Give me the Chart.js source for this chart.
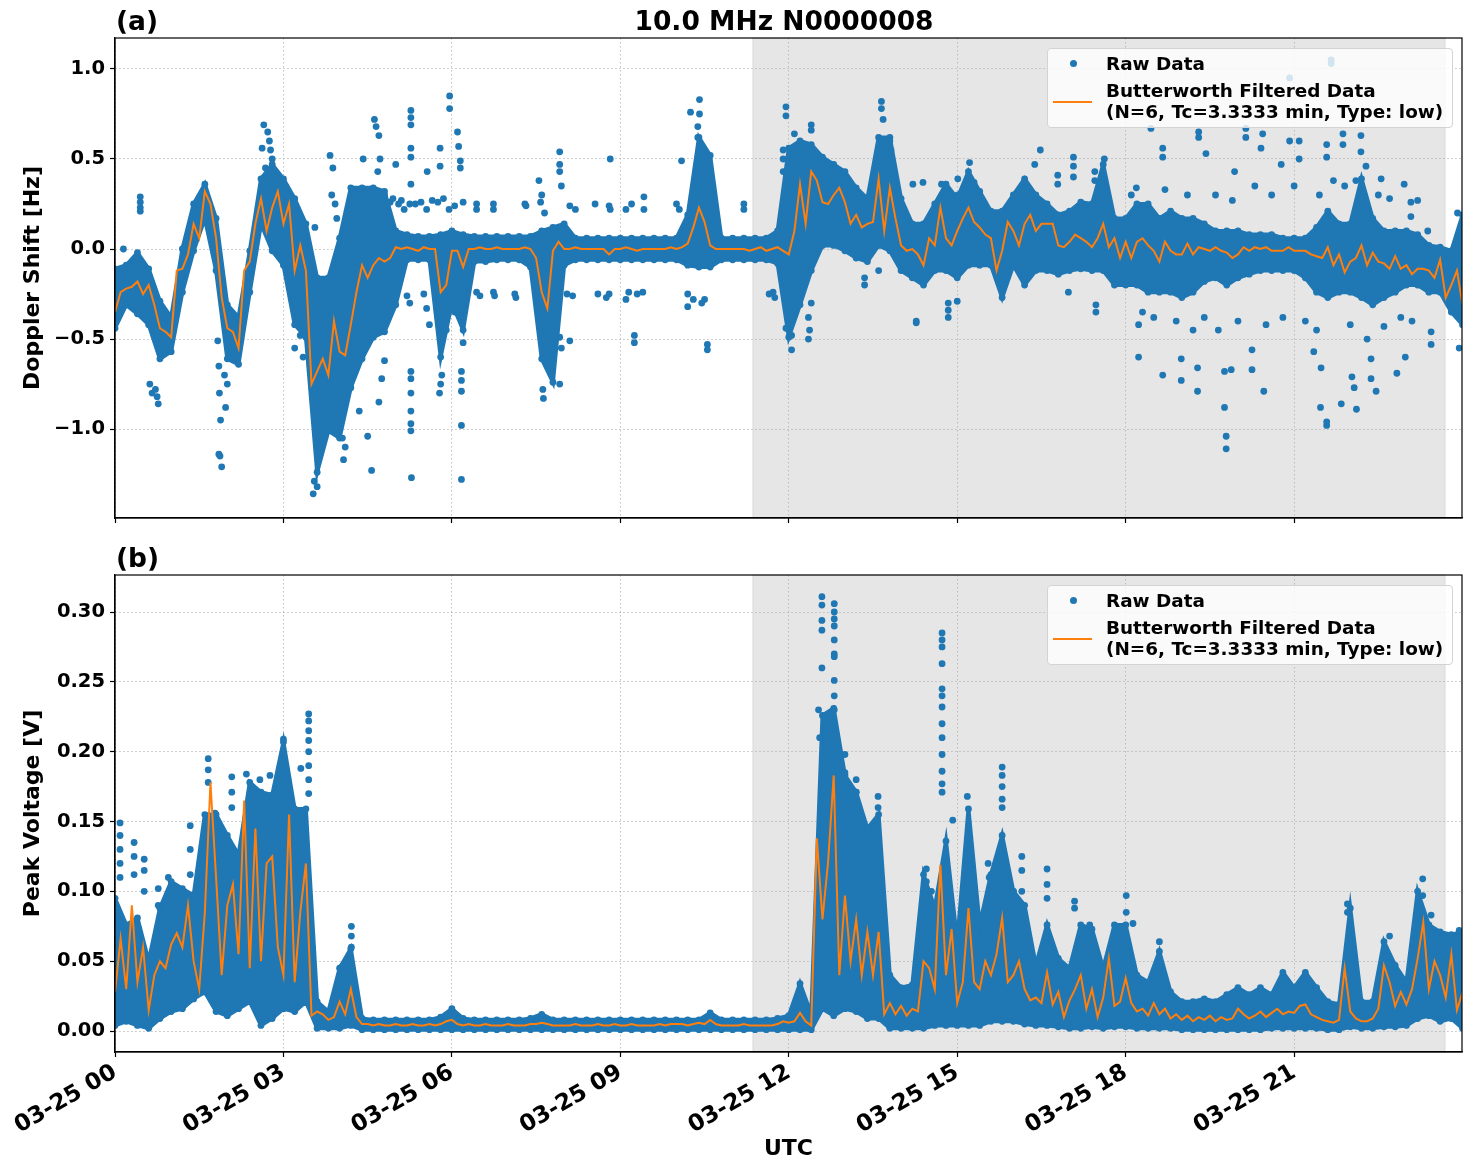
<!DOCTYPE html>
<html>
<head>
<meta charset="utf-8">
<title>10.0 MHz N0000008</title>
<script src="https://cdn.jsdelivr.net/npm/chart.js@4.4.1/dist/chart.umd.min.js"></script>
<style>
  body { margin: 0; background: #fff; }
  #fig { position: relative; width: 1471px; height: 1172px; overflow: hidden; }
  #fig canvas { position: absolute; left: 0; }
  .txt { position: absolute; font-family: 'DejaVu Sans', sans-serif; font-weight: bold; color: #000; white-space: nowrap; line-height: 1; }
  .legend { position: absolute; width: 404px; height: 78px; border: 1px solid #d3d3d3; border-radius: 4px; background: rgba(255,255,255,0.8); }
  .legend .txt { font-size: 18.4px; }
  .legend .dot { position: absolute; width: 7px; height: 7px; border-radius: 50%; background: #1f77b4; left: 22px; top: 11px; }
  .legend .ln { position: absolute; width: 39px; height: 2px; background: #ff7f0e; left: 5px; top: 52px; }
</style>
</head>
<body>
<div id="fig">
  <canvas id="chartA" width="1471" height="545" style="top:0"></canvas>
  <canvas id="chartB" width="1471" height="627" style="top:545px"></canvas>

  <div class="txt" style="left:116px; top:8px; font-size:26.5px;">(a)</div>
  <div class="txt" style="left:784px; top:8px; font-size:26.5px; transform:translateX(-50%);">10.0 MHz N0000008</div>
  <div class="txt" style="left:116px; top:545px; font-size:26.5px;">(b)</div>

  <div class="legend" style="left:1047px; top:48px;">
    <span class="dot"></span>
    <div class="txt" style="left:58px; top:6px;">Raw Data</div>
    <span class="ln"></span>
    <div class="txt" style="left:58px; top:33px;">Butterworth Filtered Data</div>
    <div class="txt" style="left:58px; top:54px;">(N=6, Tc=3.3333 min, Type: low)</div>
  </div>
  <div class="legend" style="left:1047px; top:585px;">
    <span class="dot"></span>
    <div class="txt" style="left:58px; top:6px;">Raw Data</div>
    <span class="ln"></span>
    <div class="txt" style="left:58px; top:33px;">Butterworth Filtered Data</div>
    <div class="txt" style="left:58px; top:54px;">(N=6, Tc=3.3333 min, Type: low)</div>
  </div>
</div>

<script>
// time in hours after 03-25 00:00 UTC
const FILT_STEP = 0.1;  // spacing of the filtered curve samples
const BAND_STEP = 0.2;  // spacing of the dense raw-data envelope samples
const SPAN_START = 11.36, SPAN_END = 23.69; // grey shaded interval
const X_TICK_LABELS = ['03-25 00', '03-25 03', '03-25 06', '03-25 09', '03-25 12', '03-25 15', '03-25 18', '03-25 21'];

// (a) Doppler shift [Hz] - Butterworth filtered, one value per 0.1 h
const DOPPLER_FILT = [
  -0.35,-0.24,-0.22,-0.21,-0.18,-0.25,-0.20,-0.31,-0.44,-0.46,
  -0.49,-0.12,-0.11,-0.03,0.14,0.06,0.32,0.25,0.06,-0.27,
  -0.44,-0.46,-0.55,-0.12,-0.07,0.14,0.28,0.10,0.23,0.32,
  0.14,0.25,-0.12,0.02,-0.12,-0.75,-0.68,-0.61,-0.70,-0.40,
  -0.57,-0.59,-0.42,-0.24,-0.09,-0.16,-0.09,-0.05,-0.07,-0.05,
  0.01,0.00,0.01,0.00,-0.01,0.01,0.00,0.00,-0.24,-0.20,
  -0.01,-0.01,-0.10,0.00,0.00,0.01,0.00,0.00,0.01,0.00,
  0.00,0.00,0.00,0.01,0.00,-0.05,-0.24,-0.33,-0.01,0.04,
  0.00,0.00,0.01,0.00,0.00,0.00,0.00,0.00,-0.03,0.00,
  0.00,0.01,0.00,-0.01,0.00,0.00,0.00,0.00,0.00,0.01,
  0.00,0.01,0.03,0.12,0.23,0.15,0.02,0.00,0.00,0.00,
  0.00,0.00,0.00,-0.01,0.00,0.01,-0.01,0.00,0.01,-0.01,
  -0.03,0.10,0.36,0.14,0.43,0.38,0.26,0.25,0.30,0.34,
  0.26,0.14,0.19,0.12,0.14,0.15,0.39,0.10,0.34,0.17,
  0.02,-0.01,0.00,-0.03,-0.09,0.06,0.02,0.23,0.06,0.02,
  0.10,0.17,0.23,0.15,0.12,0.08,0.06,-0.12,-0.01,0.15,
  0.10,0.02,0.14,0.19,0.10,0.14,0.14,0.14,0.02,0.01,
  0.04,0.08,0.06,0.04,0.01,0.06,0.14,0.01,0.06,-0.05,
  0.04,-0.05,0.04,0.06,0.02,-0.01,-0.07,0.04,-0.01,-0.03,
  -0.03,0.03,-0.03,0.01,0.00,-0.01,0.01,-0.01,-0.02,-0.05,
  -0.03,0.01,-0.01,0.01,0.00,0.01,-0.01,-0.01,-0.01,0.01,
  -0.01,-0.01,-0.01,-0.03,-0.04,-0.05,0.01,-0.09,-0.03,-0.13,
  -0.07,-0.05,0.02,-0.09,-0.02,-0.07,-0.08,-0.11,-0.04,-0.11,
  -0.09,-0.14,-0.11,-0.11,-0.12,-0.16,-0.06,-0.27,-0.20,-0.12,
  -0.31
];

// (a) upper / lower edge of the dense raw-data cloud, one value per 0.2 h
const DOPPLER_HI = [
  -0.11,-0.09,-0.02,-0.11,-0.29,
  -0.38,0.00,0.25,0.36,0.17,
  -0.31,-0.38,-0.01,0.39,0.47,
  0.39,0.28,0.14,-0.16,-0.16,
  0.06,0.34,0.34,0.34,0.32,
  0.10,0.08,0.07,0.07,0.08,
  0.10,0.08,0.07,0.07,0.07,
  0.07,0.07,0.07,0.10,0.12,
  0.14,0.06,0.06,0.06,0.06,
  0.06,0.06,0.06,0.06,0.06,
  0.06,0.19,0.62,0.52,0.06,
  0.06,0.06,0.06,0.06,0.10,
  0.56,0.60,0.58,0.51,0.47,
  0.43,0.34,0.28,0.62,0.62,
  0.28,0.14,0.14,0.25,0.36,
  0.28,0.43,0.32,0.21,0.21,
  0.30,0.39,0.30,0.25,0.19,
  0.21,0.26,0.25,0.47,0.17,
  0.17,0.25,0.25,0.17,0.21,
  0.17,0.17,0.14,0.10,0.10,
  0.10,0.08,0.08,0.08,0.06,
  0.06,0.06,0.12,0.21,0.14,
  0.14,0.39,0.17,0.10,0.10,
  0.10,0.08,0.02,0.01,-0.01,
  0.19
];
const DOPPLER_LO = [
  -0.44,-0.31,-0.36,-0.42,-0.61,
  -0.57,-0.24,-0.01,0.17,-0.12,
  -0.61,-0.64,-0.24,0.14,-0.01,
  -0.09,-0.42,-0.49,-1.24,-1.01,
  -1.05,-0.77,-0.61,-0.49,-0.46,
  -0.31,-0.06,-0.06,-0.06,-0.60,
  -0.30,-0.45,-0.07,-0.07,-0.06,
  -0.06,-0.06,-0.10,-0.61,-0.74,
  -0.09,-0.06,-0.06,-0.06,-0.06,
  -0.06,-0.06,-0.06,-0.06,-0.06,
  -0.06,-0.09,-0.10,-0.10,-0.06,
  -0.06,-0.06,-0.06,-0.06,-0.08,
  -0.49,-0.31,-0.12,0.02,0.02,
  -0.01,-0.05,-0.07,0.02,-0.01,
  -0.12,-0.16,-0.20,-0.12,-0.12,
  -0.16,-0.09,-0.09,-0.09,-0.27,
  -0.09,-0.20,-0.12,-0.12,-0.14,
  -0.12,-0.11,-0.12,-0.12,-0.20,
  -0.20,-0.20,-0.24,-0.24,-0.24,
  -0.27,-0.24,-0.18,-0.16,-0.20,
  -0.16,-0.14,-0.12,-0.12,-0.12,
  -0.12,-0.16,-0.24,-0.27,-0.24,
  -0.24,-0.27,-0.31,-0.27,-0.24,
  -0.20,-0.20,-0.24,-0.24,-0.35,
  -0.42
];

// (a) scattered raw points outside the dense cloud: [hour, Hz]
const DOPPLER_RAW = [
  [0.45,0.29],[0.45,0.26],[0.45,0.23],[0.45,0.21],[0.15,0.0],
  [0.62,-0.75],[0.66,-0.80],[0.72,-0.78],[0.77,-0.86],[0.75,-0.82],
  [1.83,-0.51],[1.85,-0.65],[1.86,-0.80],[1.88,-0.95],[1.85,-1.14],[1.87,-1.15],[1.90,-1.21],[1.95,-0.70],[1.97,-0.88],[2.00,-0.75],
  [2.62,0.56],[2.65,0.69],[2.72,0.65],[2.75,0.60],[2.77,0.55],[2.80,0.50],[2.68,0.45],
  [3.25,-0.35],[3.30,-0.48],[3.35,-0.60],[3.20,-0.55],[3.56,0.12],
  [3.83,0.52],[3.88,0.45],[3.92,0.25],[3.95,0.17],[3.86,0.30],
  [3.53,-1.36],[3.55,-1.29],[3.60,-1.32],[4.07,-1.17],[4.05,-1.05],[4.10,-1.10],
  [4.42,0.50],[4.57,-1.23],[4.50,-1.04],[4.35,-0.90],
  [4.62,0.72],[4.65,0.68],[4.70,0.63],[4.72,0.50],[4.68,0.43],
  [4.70,-0.85],[4.75,-0.72],[4.80,-0.62],
  [4.80,0.30],[4.90,0.26],[4.95,0.28],[5.05,0.25],[5.00,0.47],
  [5.27,0.77],[5.27,0.73],[5.27,0.69],[5.27,0.56],[5.27,0.51],[5.27,0.36],[5.25,0.25],
  [5.27,-0.68],[5.27,-0.72],[5.27,-0.80],[5.27,-0.90],[5.27,-0.97],[5.27,-1.01],[5.28,-1.27],
  [5.56,0.43],[5.79,0.56],[5.79,0.46],[5.96,0.85],[5.96,0.78],
  [6.10,0.65],[6.12,0.57],[6.15,0.49],[6.15,0.45],
  [6.17,-0.98],[6.17,-1.28],[6.17,-0.68],[6.17,-0.73],[6.17,-0.79],
  [5.80,-0.75],[5.82,-0.70],[5.78,-0.80],
  [6.44,0.25],[6.74,0.25],[6.44,0.22],[6.74,0.22],
  [6.44,-0.24],[6.50,-0.26],[6.74,-0.24],[6.76,-0.26],
  [7.12,-0.25],[7.14,-0.27],[7.30,0.25],[7.32,0.24],
  [7.55,0.38],[7.60,0.30],[7.65,0.20],[7.58,0.26],[7.63,-0.83],[7.62,-0.78],
  [7.92,0.54],[7.92,0.47],[7.92,0.43],[7.95,0.35],[7.92,-0.49],[7.92,-0.75],[7.95,-0.55],
  [4.30,0.30],[4.40,0.26],[4.50,0.28],[4.60,0.24],[5.10,0.27],[5.15,0.22],[5.35,0.25],[5.45,0.26],
  [5.55,0.22],[5.65,0.27],[5.75,0.26],[5.85,0.28],[5.95,0.22],[6.05,0.24],[6.20,0.26],
  [5.20,-0.26],[5.25,-0.30],[5.50,-0.25],[5.55,-0.33],[5.60,-0.42],[5.90,-0.45],[6.05,-0.35],[6.20,-0.52],
  [8.10,0.24],[8.20,0.22],[8.55,0.25],[8.80,0.24],[8.82,0.22],[9.10,0.22],[9.20,0.25],[9.42,0.29],[9.42,0.22],
  [8.05,-0.25],[8.15,-0.26],[8.60,-0.25],[8.75,-0.27],[8.80,-0.25],[9.10,-0.28],[9.15,-0.24],[9.30,-0.25],[9.40,-0.24],
  [8.10,-0.51],[9.25,-0.48],[9.25,-0.52],[8.82,0.50],
  [10.09,0.49],[10.00,0.25],[10.05,0.22],
  [10.25,0.76],[10.41,0.83],[10.41,0.75],[10.38,0.68],[10.38,0.62],[10.45,0.47],[10.55,0.42],
  [10.55,-0.53],[10.55,-0.56],[10.20,-0.25],[10.30,-0.28],[10.50,-0.28],[10.45,-0.30],[10.20,-0.32],
  [11.20,0.25],[11.20,0.22],[11.65,-0.25],[11.72,-0.24],[11.75,-0.27],
  [11.95,0.79],[11.95,0.74],[11.90,0.55],[11.90,0.50],[11.90,0.43],[12.10,0.64],[12.40,0.69],[12.40,0.66],
  [11.95,-0.44],[12.05,-0.56],[12.05,-0.48],[12.35,-0.50],[12.35,-0.38],[12.40,-0.30],[12.37,-0.45],
  [13.65,0.82],[13.65,0.78],[13.68,0.72],[13.80,0.60],[13.82,0.55],
  [13.35,-0.20],[13.60,-0.12],[13.35,-0.16],
  [14.21,0.36],[14.39,0.37],[14.27,-0.41],[14.27,-0.40],
  [15.01,0.39],[15.01,0.30],[14.84,-0.30],[14.84,-0.38],[14.84,-0.34],
  [15.22,0.48],[15.30,0.37],[15.00,-0.29],[14.72,0.36],
  [16.48,0.55],[16.38,0.47],[16.98,-0.24],[16.79,0.41],[16.79,0.36],
  [17.07,0.51],[17.07,0.46],[17.07,0.40],[17.45,0.43],[17.45,0.38],[17.47,-0.31],[17.47,-0.35],[17.62,0.50],
  [18.19,0.34],[18.23,-0.42],[18.23,-0.60],[18.45,0.67],[18.66,0.56],[18.66,0.51],[18.66,-0.70],
  [18.99,-0.73],[18.99,-0.61],[19.28,-0.79],[19.28,-0.66],[19.30,0.65],[19.30,0.62],[19.43,0.53],
  [19.76,-0.68],[19.76,-0.88],[19.79,-1.04],[19.79,-1.11],[19.88,-0.67],[19.94,0.43],
  [20.14,0.62],[20.14,0.67],[20.25,-0.67],[20.25,-0.56],[20.41,0.56],[20.44,0.64],[20.46,-0.79],
  [20.77,0.47],[20.92,0.95],[20.92,0.60],[21.09,0.60],[21.09,0.50],
  [21.35,-0.57],[21.48,-0.66],[21.47,-0.88],[21.58,-0.98],[21.58,-0.96],[21.58,0.58],[21.58,0.51],
  [21.66,1.03],[21.66,1.05],[21.87,0.64],[21.87,0.58],[21.84,-0.86],
  [22.03,-0.71],[22.07,-0.77],[22.11,-0.89],[22.19,0.63],[22.19,0.54],[22.28,0.46],
  [22.46,-0.79],[22.37,-0.61],[22.37,-0.72],[22.55,0.39],[22.83,-0.69],[22.96,0.36],
  [23.08,0.26],[23.08,0.18],[22.98,-0.60],[23.44,-0.46],[23.44,-0.53],[23.38,0.10],[23.94,-0.55],[23.91,0.20],
  [18.10,0.30],[18.30,-0.35],[18.50,-0.38],[18.70,0.33],[18.90,-0.40],[19.10,0.30],[19.20,-0.45],
  [19.40,-0.38],[19.60,0.30],[19.65,-0.45],[19.90,0.27],[20.00,-0.40],[20.30,0.35],[20.50,-0.42],
  [20.60,0.30],[20.80,-0.38],[21.00,0.35],[21.20,-0.40],[21.40,-0.45],[21.45,0.30],[21.70,0.38],
  [21.90,0.35],[22.00,-0.42],[22.10,0.38],[22.30,-0.50],[22.50,0.30],[22.60,-0.43],[22.70,0.28],
  [22.90,-0.38],[23.10,-0.40],[23.20,0.27]
];

// (b) peak voltage [V] - Butterworth filtered, one value per 0.1 h
const VOLT_FILT = [
  0.028,0.066,0.030,0.090,0.035,0.060,0.015,0.040,0.050,0.045,
  0.062,0.070,0.060,0.090,0.050,0.030,0.085,0.178,0.110,0.040,
  0.090,0.105,0.055,0.165,0.045,0.145,0.050,0.120,0.125,0.060,
  0.040,0.155,0.035,0.085,0.120,0.011,0.014,0.012,0.008,0.010,
  0.021,0.012,0.030,0.010,0.005,0.005,0.004,0.005,0.004,0.004,
  0.005,0.004,0.004,0.005,0.004,0.004,0.005,0.004,0.005,0.007,
  0.008,0.005,0.004,0.005,0.004,0.004,0.005,0.004,0.004,0.004,
  0.005,0.004,0.004,0.004,0.005,0.005,0.006,0.005,0.004,0.004,
  0.004,0.004,0.005,0.004,0.004,0.004,0.005,0.004,0.004,0.005,
  0.004,0.004,0.005,0.004,0.004,0.004,0.004,0.005,0.004,0.005,
  0.005,0.005,0.004,0.005,0.006,0.005,0.008,0.005,0.004,0.004,
  0.004,0.004,0.005,0.004,0.004,0.004,0.004,0.004,0.005,0.007,
  0.006,0.007,0.013,0.007,0.004,0.138,0.080,0.121,0.183,0.040,
  0.097,0.050,0.080,0.040,0.071,0.040,0.071,0.012,0.020,0.012,
  0.018,0.011,0.016,0.014,0.050,0.045,0.030,0.119,0.040,0.073,
  0.020,0.035,0.088,0.035,0.030,0.050,0.040,0.055,0.081,0.035,
  0.040,0.050,0.030,0.022,0.024,0.020,0.042,0.019,0.028,0.010,
  0.022,0.030,0.040,0.016,0.030,0.010,0.024,0.052,0.018,0.021,
  0.038,0.020,0.014,0.016,0.011,0.020,0.012,0.016,0.009,0.012,
  0.008,0.011,0.007,0.010,0.008,0.011,0.007,0.010,0.008,0.009,
  0.016,0.012,0.009,0.011,0.014,0.010,0.013,0.016,0.012,0.014,
  0.013,0.018,0.019,0.012,0.010,0.008,0.007,0.006,0.008,0.045,
  0.014,0.009,0.007,0.007,0.009,0.016,0.047,0.035,0.018,0.028,
  0.019,0.030,0.052,0.078,0.030,0.050,0.040,0.024,0.055,0.015,
  0.028
];

// (b) upper / lower edge of the dense raw-data cloud, one value per 0.2 h
const VOLT_HI = [
  0.095,0.076,0.081,0.050,0.088,
  0.107,0.102,0.097,0.155,0.155,
  0.140,0.126,0.178,0.171,0.169,
  0.207,0.159,0.159,0.021,0.014,
  0.045,0.059,0.009,0.008,0.008,
  0.008,0.008,0.008,0.008,0.010,
  0.016,0.009,0.008,0.008,0.008,
  0.008,0.008,0.009,0.012,0.008,
  0.008,0.008,0.008,0.008,0.008,
  0.008,0.008,0.008,0.008,0.008,
  0.008,0.008,0.008,0.013,0.008,
  0.008,0.008,0.008,0.008,0.009,
  0.011,0.034,0.012,0.226,0.231,
  0.183,0.171,0.145,0.155,0.040,
  0.031,0.033,0.112,0.088,0.136,
  0.064,0.159,0.076,0.112,0.140,
  0.100,0.090,0.047,0.076,0.052,
  0.045,0.076,0.073,0.045,0.076,
  0.076,0.040,0.035,0.057,0.028,
  0.021,0.021,0.023,0.021,0.026,
  0.031,0.026,0.031,0.026,0.042,
  0.031,0.042,0.031,0.021,0.019,
  0.088,0.021,0.021,0.064,0.047,
  0.035,0.100,0.076,0.071,0.069,
  0.071
];
const VOLT_LO = [
  0.004,0.007,0.004,0.002,0.009,
  0.014,0.016,0.023,0.028,0.014,
  0.011,0.016,0.021,0.004,0.009,
  0.016,0.014,0.021,0.002,0.002,
  0.002,0.004,0.001,0.001,0.001,
  0.001,0.001,0.001,0.001,0.001,
  0.001,0.001,0.001,0.001,0.001,
  0.001,0.001,0.001,0.001,0.001,
  0.001,0.001,0.001,0.001,0.001,
  0.001,0.001,0.001,0.001,0.001,
  0.001,0.001,0.001,0.001,0.001,
  0.001,0.001,0.001,0.001,0.001,
  0.001,0.001,0.001,0.016,0.011,
  0.016,0.014,0.009,0.009,0.002,
  0.002,0.002,0.002,0.004,0.004,
  0.004,0.004,0.004,0.007,0.007,
  0.007,0.005,0.004,0.004,0.003,
  0.002,0.002,0.003,0.002,0.003,
  0.003,0.002,0.002,0.002,0.002,
  0.001,0.001,0.001,0.001,0.001,
  0.001,0.001,0.001,0.002,0.002,
  0.002,0.002,0.002,0.001,0.001,
  0.003,0.002,0.002,0.003,0.003,
  0.004,0.009,0.011,0.007,0.009,
  0.002
];

// (b) scattered raw points above the dense cloud: [hour, V]
const VOLT_RAW = [
  [0.09,0.149],[0.09,0.140],[0.09,0.130],[0.09,0.120],[0.09,0.110],
  [0.34,0.135],[0.34,0.125],[0.34,0.112],[0.52,0.123],[0.52,0.115],[0.52,0.100],
  [0.77,0.102],[0.77,0.090],[0.95,0.110],
  [1.34,0.147],[1.34,0.130],[1.34,0.112],[1.66,0.195],[1.66,0.187],[1.66,0.178],[1.78,0.156],
  [2.08,0.182],[2.08,0.171],[2.08,0.160],[2.34,0.184],[2.58,0.180],[2.76,0.183],[3.00,0.209],[3.31,0.188],
  [3.45,0.227],[3.45,0.222],[3.45,0.215],[3.45,0.208],[3.45,0.200],[3.45,0.190],[3.45,0.180],[3.45,0.170],
  [4.21,0.075],[4.21,0.068],[4.21,0.060],[4.04,0.046],
  [12.59,0.311],[12.59,0.305],[12.59,0.294],[12.59,0.287],[12.59,0.260],[12.53,0.230],[12.55,0.210],
  [12.81,0.306],[12.81,0.300],[12.81,0.295],[12.81,0.290],[12.81,0.280],[12.81,0.270],[12.81,0.268],
  [12.81,0.251],[12.81,0.240],[12.81,0.230],[12.81,0.212],
  [13.00,0.198],[13.00,0.185],[13.20,0.180],[13.20,0.171],[13.59,0.168],[13.59,0.160],
  [14.73,0.285],[14.73,0.280],[14.73,0.275],[14.73,0.263],[14.73,0.245],[14.73,0.240],[14.73,0.232],
  [14.73,0.220],[14.73,0.210],[14.73,0.198],[14.73,0.186],[14.73,0.177],[14.73,0.171],
  [14.92,0.151],[15.18,0.168],
  [15.80,0.189],[15.80,0.183],[15.80,0.175],[15.80,0.166],[15.80,0.160],
  [14.45,0.116],[14.45,0.107],[14.54,0.100],
  [15.55,0.120],[15.57,0.110],[15.73,0.112],[16.00,0.100],
  [16.15,0.125],[16.15,0.115],[16.15,0.100],[16.60,0.116],[16.60,0.105],[16.60,0.095],
  [17.09,0.093],[17.09,0.088],[17.36,0.076],[18.01,0.097],[18.01,0.085],[18.13,0.077],[18.60,0.064],
  [21.95,0.091],[21.95,0.085],[22.70,0.068],[23.29,0.109],[23.29,0.097],[23.44,0.083],[23.94,0.072]
];

const BLUE = '#1f77b4';
const ORANGE = '#ff7f0e';

Chart.defaults.font.family = "'DejaVu Sans', sans-serif";
Chart.defaults.font.weight = 'bold';
Chart.defaults.color = '#000';

function series(values, step) {
  return values.map((v, i) => ({ x: Math.round(i * step * 100) / 100, y: v }));
}
function pairs(list) {
  return list.map(p => ({ x: p[0], y: p[1] }));
}

// grey shaded span + closed black frame like matplotlib
const spanAndFrame = {
  id: 'spanAndFrame',
  beforeDraw(chart) {
    const { ctx, chartArea: a, scales: { x } } = chart;
    const x0 = x.getPixelForValue(SPAN_START);
    const x1 = Math.min(x.getPixelForValue(SPAN_END), a.right);
    ctx.save();
    ctx.fillStyle = 'rgba(128,128,128,0.2)';
    ctx.fillRect(x0, a.top, x1 - x0, a.bottom - a.top);
    ctx.strokeStyle = 'rgba(128,128,128,0.2)';
    ctx.lineWidth = 1;
    ctx.strokeRect(x0, a.top, x1 - x0, a.bottom - a.top);
    ctx.restore();
  },
  afterDraw(chart) {
    const { ctx, chartArea: a } = chart;
    ctx.save();
    ctx.strokeStyle = '#000';
    ctx.lineWidth = 1.2;
    ctx.strokeRect(a.left, a.top, a.right - a.left, a.bottom - a.top);
    ctx.restore();
  }
};

function makePanel(canvasId, cfg) {
  const datasets = [
    { label: 'Butterworth Filtered Data', type: 'line', data: series(cfg.filt, FILT_STEP),
      borderColor: ORANGE, borderWidth: 2, pointRadius: 0, fill: false, order: 0 },
    { label: 'Raw Data', type: 'scatter', data: pairs(cfg.raw),
      backgroundColor: BLUE, borderWidth: 0, pointRadius: 3.4, order: 1 },
    // edges of the dense dot cloud, dotted with raw-size markers
    { label: 'envelope low', type: 'line', data: series(cfg.lo, BAND_STEP),
      borderColor: BLUE, borderWidth: 4, pointRadius: 3.4, pointBorderWidth: 0,
      pointBackgroundColor: BLUE, fill: false, order: 2 },
    { label: 'envelope high', type: 'line', data: series(cfg.hi, BAND_STEP),
      borderColor: BLUE, backgroundColor: BLUE, borderWidth: 4, pointRadius: 3.4, pointBorderWidth: 0,
      pointBackgroundColor: BLUE, fill: 2, order: 2 }
  ];

  return new Chart(document.getElementById(canvasId), {
    type: 'line',
    data: { datasets },
    options: {
      responsive: false,
      animation: false,
      events: [],
      layout: { padding: { left: 0, right: 9, top: cfg.padTop, bottom: 0 } },
      plugins: { legend: { display: false }, tooltip: { enabled: false } },
      scales: {
        x: {
          type: 'linear', min: 0, max: 23.99,
          ticks: {
            display: cfg.showX, stepSize: 3, includeBounds: false, autoSkip: false,
            minRotation: 30, maxRotation: 30, padding: 2,
            font: { size: 23, weight: 'bold' },
            callback: v => X_TICK_LABELS[Math.round(v / 3)]
          },
          grid: { color: '#b0b0b0', lineWidth: 0.8, tickLength: 5, tickColor: '#000', tickWidth: 1.2 },
          border: { color: '#000', width: 1.2, dash: [1.5, 2.5] },
          title: { display: cfg.showX, text: 'UTC', font: { size: 22, weight: 'bold' }, padding: { top: 0, bottom: 10 } },
          afterFit: s => { s.height = cfg.xHeight; }
        },
        y: {
          type: 'linear', min: cfg.yMin, max: cfg.yMax,
          ticks: {
            stepSize: cfg.yStep, includeBounds: false, padding: 5,
            font: { size: 19.5, weight: 'bold' },
            callback: cfg.yFormat
          },
          grid: { color: '#b0b0b0', lineWidth: 0.8, tickLength: 5, tickColor: '#000', tickWidth: 1.2 },
          border: { color: '#000', width: 1.2, dash: [1.5, 2.5] },
          title: { display: true, text: cfg.yTitle, font: { size: 22, weight: 'bold' }, padding: { top: 20, bottom: 0 } },
          afterFit: s => { s.width = 115; }
        }
      }
    },
    plugins: [spanAndFrame]
  });
}

makePanel('chartA', {
  filt: DOPPLER_FILT, hi: DOPPLER_HI, lo: DOPPLER_LO, raw: DOPPLER_RAW,
  padTop: 38, xHeight: 27, showX: false,
  yMin: -1.494, yMax: 1.172, yStep: 0.5,
  yFormat: v => (v < 0 ? '\u2212' : '') + Math.abs(v).toFixed(1),
  yTitle: 'Doppler Shift [Hz]'
});

makePanel('chartB', {
  filt: VOLT_FILT, hi: VOLT_HI, lo: VOLT_LO, raw: VOLT_RAW,
  padTop: 30, xHeight: 120, showX: true,
  yMin: -0.015, yMax: 0.3265, yStep: 0.05,
  yFormat: v => Math.abs(v).toFixed(2),
  yTitle: 'Peak Voltage [V]'
});
</script>
</body>
</html>
